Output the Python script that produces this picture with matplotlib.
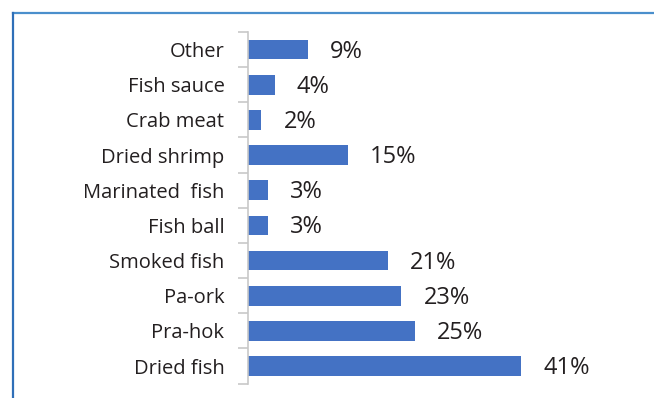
import matplotlib.pyplot as plt
from matplotlib.lines import Line2D

# products, listed bottom to top
products = ["Dried fish", "Pra-hok", "Pa-ork", "Smoked fish", "Fish ball",
            "Marinated  fish", "Dried shrimp", "Crab meat", "Fish sauce", "Other"]
shares = [41, 25, 23, 21, 3, 3, 15, 2, 4, 9]

plt.rcParams['font.family'] = ['Open Sans', 'DejaVu Sans']

fig = plt.figure(figsize=(6.54, 3.98), dpi=100)
ax = fig.add_axes([0.3792, 0.0362, 0.6009, 0.8834])

ypos = list(range(len(products)))
ax.barh(ypos, shares, height=0.56, color="#4472C4")

for y, v in zip(ypos, shares):
    ax.annotate(f"{v}%", xy=(v, y), xytext=(16, -1.5), textcoords="offset points",
                ha="left", va="center", fontsize=17, color="#231f20")

ax.set_ylim(-0.5, len(products) - 0.5)
ax.set_xlim(0, 59)
ax.set_yticks(ypos)
ax.set_yticklabels(products, fontsize=14.5, color="#231f20")
ax.set_yticks([i - 0.5 for i in range(len(products) + 1)], minor=True)
ax.tick_params(axis="y", which="major", length=0, pad=17)
ax.tick_params(axis="y", which="minor", length=7, width=1.2, color="#c8c8c8")
ax.set_xticks([])

for side in ["top", "right", "bottom"]:
    ax.spines[side].set_visible(False)
ax.spines["left"].set_color("#c8c8c8")
ax.spines["left"].set_linewidth(1.2)

# blue frame along top and left edges
fig.add_artist(Line2D([13 / 654, 1], [1 - 13 / 398, 1 - 13 / 398],
                      transform=fig.transFigure, color="#4a8fcc", lw=1.6))
fig.add_artist(Line2D([13 / 654, 13 / 654], [0, 1 - 13 / 398],
                      transform=fig.transFigure, color="#2f6fb8", lw=1.6))

fig.savefig("out.png", dpi=100)
